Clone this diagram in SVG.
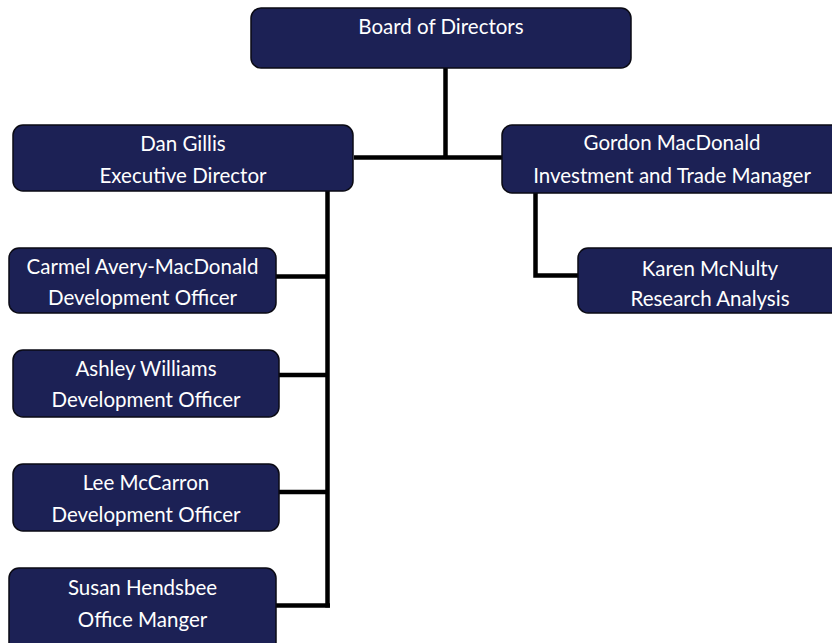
<svg xmlns="http://www.w3.org/2000/svg" width="832" height="643" viewBox="0 0 832 643">
  <style>
    .box { fill: #1c2155; stroke: #0a0a14; stroke-width: 1.5; }
    .lbl { fill: #ffffff; font-family: Lato, "Open Sans", "Liberation Sans", sans-serif; font-size: 20.5px; text-anchor: middle; }
    .wire { fill: none; stroke: #000000; stroke-width: 4.5; stroke-linejoin: miter; stroke-linecap: butt; }
  </style>
  <rect width="832" height="643" fill="#ffffff"/>

  <!-- reporting lines -->
  <g id="connectors">
    <path class="wire" d="M445.5 68 V157.5"/>
    <path class="wire" d="M354 157.5 H502"/>
    <path class="wire" d="M327.5 191 V607.5"/>
    <path class="wire" d="M276 276.5 H327.5"/>
    <path class="wire" d="M279 375 H327.5"/>
    <path class="wire" d="M279 492 H327.5"/>
    <path class="wire" d="M276 605.5 H330"/>
    <path class="wire" d="M535.5 193 V275.5 H578"/>
  </g>

  <g id="board">
    <rect class="box" x="251" y="8" width="380" height="60" rx="10"/>
    <text class="lbl" x="441" y="34">Board of Directors</text>
  </g>

  <g id="dan-gillis">
    <rect class="box" x="13" y="125" width="340" height="66" rx="10"/>
    <text class="lbl" x="183" y="151">Dan Gillis</text>
    <text class="lbl" x="183" y="183">Executive Director</text>
  </g>

  <g id="gordon-macdonald">
    <rect class="box" x="502" y="125" width="340" height="68" rx="10"/>
    <text class="lbl" x="672" y="150">Gordon MacDonald</text>
    <text class="lbl" x="672" y="183">Investment and Trade Manager</text>
  </g>

  <g id="carmel-avery-macdonald">
    <rect class="box" x="9" y="248" width="267" height="65" rx="10"/>
    <text class="lbl" x="142.5" y="274">Carmel Avery-MacDonald</text>
    <text class="lbl" x="142.5" y="305">Development Officer</text>
  </g>

  <g id="karen-mcnulty">
    <rect class="box" x="578" y="248" width="264" height="65" rx="10"/>
    <text class="lbl" x="710" y="276">Karen McNulty</text>
    <text class="lbl" x="710" y="306">Research Analysis</text>
  </g>

  <g id="ashley-williams">
    <rect class="box" x="13" y="350" width="266" height="67" rx="10"/>
    <text class="lbl" x="146" y="376">Ashley Williams</text>
    <text class="lbl" x="146" y="407">Development Officer</text>
  </g>

  <g id="lee-mccarron">
    <rect class="box" x="13" y="464" width="266" height="67" rx="10"/>
    <text class="lbl" x="146" y="490">Lee McCarron</text>
    <text class="lbl" x="146" y="522">Development Officer</text>
  </g>

  <g id="susan-hendsbee">
    <rect class="box" x="9" y="568" width="267" height="85" rx="10"/>
    <text class="lbl" x="142.5" y="595">Susan Hendsbee</text>
    <text class="lbl" x="142.5" y="627">Office Manger</text>
  </g>
</svg>
